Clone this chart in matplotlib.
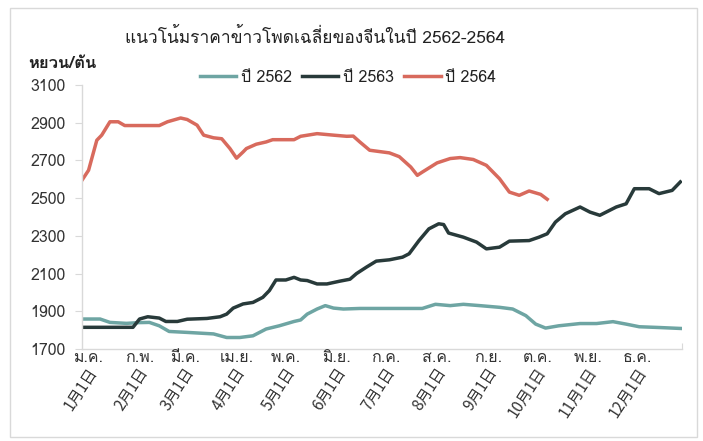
import matplotlib
matplotlib.use("Agg")
import matplotlib.pyplot as plt
from matplotlib import font_manager as fm
from matplotlib.patches import Rectangle

# ---------------- data ----------------
title = "แนวโน้มราคาข้าวโพดเฉลี่ยของจีนในปี 2562-2564"
y_unit = "หยวน/ตัน"
series_names = ["ปี 2562", "ปี 2563", "ปี 2564"]
thai_months = ["ม.ค.", "ก.พ.", "มี.ค.", "เม.ย.", "พ.ค.", "มิ.ย.",
               "ก.ค.", "ส.ค.", "ก.ย.", "ต.ค.", "พ.ย.", "ธ.ค."]
date_labels = ["1月1日", "2月1日", "3月1日", "4月1日", "5月1日", "6月1日",
               "7月1日", "8月1日", "9月1日", "10月1日", "11月1日", "12月1日"]
month_start_days = [0, 31, 59, 90, 120, 151, 181, 212, 243, 273, 304, 334]
y_ticks = [1700, 1900, 2100, 2300, 2500, 2700, 2900, 3100]

days_2562 = [0, 11, 17, 27, 35, 41, 47, 53, 64, 72, 80, 88, 96, 104, 112, 120,
             129, 133, 137, 143, 148, 153, 159, 169, 177, 207, 215, 224, 232,
             242, 254, 262, 270, 276, 282, 290, 303, 313, 323, 331, 339, 351, 364]
vals_2562 = [1859, 1859, 1841, 1836, 1840, 1841, 1823, 1793, 1788, 1784, 1780,
             1761, 1761, 1770, 1806, 1823, 1846, 1854, 1885, 1912, 1930, 1917,
             1912, 1915, 1915, 1915, 1937, 1930, 1937, 1930, 1921, 1912, 1877,
             1832, 1811, 1823, 1835, 1835, 1845, 1832, 1818, 1814, 1809]

days_2563 = [0, 31, 35, 40, 47, 51, 58, 64, 76, 84, 88, 92, 98, 104, 110, 114,
             118, 124, 129, 133, 137, 143, 149, 157, 163, 167, 173, 179, 187,
             195, 199, 205, 211, 217, 220, 223, 232, 240, 246, 254, 260, 272,
             278, 283, 288, 294, 303, 309, 315, 325, 331, 336, 345, 351, 359, 364]
vals_2563 = [1815, 1815, 1859, 1871, 1864, 1846, 1846, 1858, 1862, 1871, 1885,
             1917, 1939, 1947, 1974, 2010, 2066, 2066, 2080, 2066, 2063, 2045,
             2045, 2060, 2070, 2100, 2134, 2166, 2173, 2187, 2205, 2275, 2337,
             2364, 2360, 2315, 2293, 2267, 2231, 2240, 2272, 2275, 2293, 2311,
             2373, 2417, 2453, 2426, 2409, 2453, 2470, 2550, 2550, 2524, 2541, 2586]

days_2564 = [0, 4, 9, 12, 17, 22, 26, 47, 52, 60, 64, 70, 74, 80, 85, 90, 94,
             98, 100, 106, 112, 116, 129, 133, 143, 153, 161, 165, 169, 175,
             187, 193, 200, 204, 207, 216, 224, 230, 238, 246, 254, 260, 266,
             272, 279, 283]
vals_2564 = [2595, 2648, 2807, 2834, 2905, 2905, 2885, 2885, 2905, 2925, 2917,
             2887, 2834, 2820, 2815, 2763, 2712, 2745, 2763, 2786, 2798, 2810,
             2810, 2828, 2842, 2834, 2828, 2829, 2798, 2754, 2740, 2720, 2665,
             2621, 2638, 2687, 2710, 2715, 2705, 2674, 2603, 2532, 2515, 2538,
             2520, 2494]

# ---------------- fonts ----------------
def find_font_with(chars):
    try:
        from fontTools.ttLib import TTFont
    except Exception:
        return None
    seen = set()
    for f in fm.fontManager.ttflist:
        if f.fname in seen:
            continue
        seen.add(f.fname)
        try:
            tt = TTFont(f.fname, fontNumber=0, lazy=True)
            cmap = tt.getBestCmap()
            if cmap and all(ord(c) in cmap for c in chars):
                return f.name
        except Exception:
            continue
    return None

thai_font = find_font_with("ปแนวโ้มราคข")
fam = ([thai_font] if thai_font else []) + ["Noto Sans CJK SC", "DejaVu Sans"]
plt.rcParams["font.family"] = fam
cjk_fam = ["Noto Sans CJK SC", "DejaVu Sans"]

# ---------------- figure ----------------
W, H = 703, 441
fig = plt.figure(figsize=(W / 100, H / 100), dpi=100)
fig.patch.set_facecolor("white")
fig.patches.append(Rectangle((10 / W, 1 - 437 / H), 687 / W, 429 / H,
                             transform=fig.transFigure, fill=False,
                             edgecolor="#d9d9d9", lw=1.0))

ax = fig.add_axes([82 / W, 1 - 349 / H, 600 / W, 264 / H])
c62, c63, c64 = "#6ea5a3", "#283a3a", "#d86a5d"
ax.plot(days_2562, vals_2562, color=c62, lw=2.5, label=series_names[0],
        solid_joinstyle="round")
ax.plot(days_2563, vals_2563, color=c63, lw=2.5, label=series_names[1],
        solid_joinstyle="round")
ax.plot(days_2564, vals_2564, color=c64, lw=2.5, label=series_names[2],
        solid_joinstyle="round")

ax.set_xlim(0, 365)
ax.set_ylim(y_ticks[0], y_ticks[-1])
ax.set_yticks(y_ticks)
ax.set_yticklabels([str(v) for v in y_ticks], fontsize=11.5, color="#333333")
ax.tick_params(axis="y", length=5, color="#d9d9d9", pad=7)
ax.set_xticks([365])
ax.set_xticklabels([""])
ax.tick_params(axis="x", length=4, color="#d9d9d9", direction="in")
for s in ["top", "right"]:
    ax.spines[s].set_visible(False)
for s in ["left", "bottom"]:
    ax.spines[s].set_color("#d9d9d9")
    ax.spines[s].set_linewidth(1.0)

for d, m in zip(month_start_days, thai_months):
    ax.annotate(m, xy=(d + 4, 0), xycoords=("data", "axes fraction"),
                xytext=(0, -0.5), textcoords="offset points",
                ha="center", va="top", fontsize=11.5, color="#333333")
for d, lab in zip(month_start_days, date_labels):
    ax.annotate(lab, xy=(d + 3, 0), xycoords=("data", "axes fraction"),
                xytext=(0, -11), textcoords="offset points",
                ha="right", va="top", rotation=57, rotation_mode="anchor",
                fontsize=11, color="#333333", family=cjk_fam)

fig.text(315 / W, 1 - 37 / H, title, ha="center", va="center",
         fontsize=12.5, color="#222222")
fig.text(28 / W, 1 - 64 / H, y_unit, ha="left", va="center",
         fontsize=12, color="#222222", fontweight="bold")

leg = ax.legend(loc="center", bbox_to_anchor=(348 / W, 1 - 78 / H),
                bbox_transform=fig.transFigure, ncol=3, frameon=False,
                fontsize=11.5, handlelength=2.3, handletextpad=0.3,
                columnspacing=0.6)
for t in leg.get_texts():
    t.set_color("#222222")

fig.savefig("out.png", dpi=100, facecolor="white")
